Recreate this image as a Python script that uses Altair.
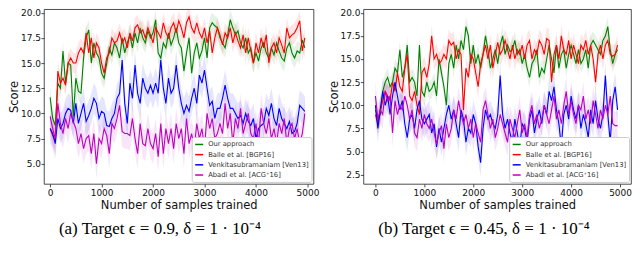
import altair as alt
import pandas as pd

# ---------------- data ----------------
SAMPLES = list(range(0, 5000, 50))  # 100 evaluation points

SERIES = ["Our approach", "Balle et al. [BGP16]", "Venkitasubramaniam [Ven13]", "Abadi et al. [ACG⁺16]"]
COLORS = ["#008000", "#ff0000", "#0000ff", "#bf00bf"]

# panel (a): eps = 0.9
A_ours = [11.6, 9.5, 8.8, 13.0, 12.5, 16.2, 13.0, 15.0, 14.8, 9.7,
          13.5, 12.2, 12.0, 15.5, 17.5, 18.3, 15.0, 17.0, 16.0, 15.5,
          14.0, 13.5, 15.0, 16.5, 15.8, 17.0, 16.5, 15.5, 17.5, 16.0,
          17.0, 17.8, 16.5, 18.0, 17.0, 18.5, 17.5, 17.0, 18.2, 17.5,
          18.0, 19.3, 16.0, 15.5, 17.0, 16.5, 18.0, 16.8, 17.5, 18.5,
          17.0, 16.5, 14.2, 16.0, 17.5, 14.0, 16.0, 17.0, 15.5, 16.2,
          17.5, 15.5, 18.5, 19.0, 18.7, 18.5, 17.5, 17.0, 16.5, 17.8,
          19.3, 18.5, 17.8, 18.2, 17.0, 16.5, 17.5, 16.0, 16.5, 15.0,
          16.0, 15.2, 16.5, 17.0, 16.0, 15.5, 16.5, 15.8, 17.0, 16.2,
          15.5, 15.2, 16.5, 17.0, 16.0, 15.5, 16.2, 16.0, 17.3, 16.5]
A_balle = [8.5, 7.8, 7.2, 14.2, 13.0, 13.5, 12.8, 15.0, 15.5, 15.0,
           15.0, 16.0, 16.5, 16.0, 18.0, 16.0, 17.5, 15.5, 17.0, 16.5,
           15.0, 14.0, 15.5, 16.0, 17.5, 17.0, 17.2, 18.0, 17.0, 17.5,
           16.5, 18.0, 17.2, 18.5, 18.8, 18.0, 18.3, 17.5, 18.5, 17.8,
           17.0, 18.5, 18.0, 17.5, 19.0, 18.0, 17.5, 18.5, 19.0, 18.0,
           19.2, 18.5, 17.5, 19.0, 19.6, 18.5, 18.0, 19.0, 18.0, 17.5,
           18.5, 17.0, 18.2, 16.0, 17.5, 18.5, 17.8, 16.8, 18.0, 17.5,
           18.5, 17.0, 18.0, 17.2, 16.5, 17.8, 16.0, 17.5, 16.2, 15.0,
           17.0, 16.0, 17.5, 16.5, 17.8, 15.0, 16.5, 17.0, 16.0, 17.5,
           16.8, 16.0, 18.5, 17.5, 17.8, 18.0, 18.5, 19.2, 16.2, 17.5]
A_venk = [8.5, 8.0, 7.0, 9.5, 8.5, 9.0, 10.0, 10.5, 10.3, 9.0,
          11.0, 9.0, 10.0, 11.0, 9.2, 9.8, 10.5, 11.5, 11.0, 9.5,
          10.2, 10.0, 8.8, 8.7, 9.5, 10.0, 11.5, 12.0, 15.3, 11.0,
          9.0, 13.0, 11.5, 14.8, 12.0, 11.0, 13.5, 12.5, 12.0, 12.8,
          12.0, 13.0, 12.0, 15.3, 12.5, 11.0, 13.5, 12.0, 12.5, 14.8,
          12.5, 11.0, 10.0, 10.8, 10.2, 11.5, 12.5, 11.0, 13.8, 13.0,
          14.3, 12.5, 10.8, 11.2, 9.5, 10.5, 10.5, 11.5, 12.8, 11.5,
          10.5, 10.5, 10.0, 9.5, 9.8, 9.0, 10.0, 9.2, 8.8, 9.5,
          7.5, 8.5, 8.8, 9.0, 10.5, 9.8, 11.0, 9.5, 8.8, 10.5,
          9.5, 9.0, 8.5, 9.2, 8.0, 8.2, 9.0, 10.8, 10.5, 10.2]
A_abadi = [9.7, 8.5, 7.5, 11.0, 9.0, 8.0, 9.5, 8.5, 10.0, 9.2,
           8.5, 7.0, 8.0, 6.5, 7.5, 7.8, 6.0, 8.0, 5.0, 7.5,
           7.0, 8.5, 7.8, 6.0, 9.0, 8.5, 9.5, 10.8, 8.2, 8.0,
           8.0, 7.8, 9.5, 7.5, 6.0, 9.0, 7.0, 6.8, 8.5, 7.0,
           6.5, 8.0, 5.7, 9.0, 6.0, 8.5, 7.0, 8.5, 6.5, 9.0,
           7.5, 8.5, 6.0, 9.5, 7.0, 8.0, 6.5, 9.0, 7.5, 8.5,
           6.5, 10.0, 8.5, 9.5, 7.5, 8.0, 9.0, 8.0, 11.0, 8.5,
           10.0, 7.0, 9.5, 8.5, 10.5, 8.0, 9.0, 10.0, 8.0, 7.5,
           9.0, 7.0, 10.5, 9.0, 8.0, 9.5, 7.5, 8.5, 7.0, 9.0,
           8.0, 9.5, 7.0, 8.5, 9.0, 7.5, 8.5, 7.0, 8.0, 10.0]
A_spread = [1.0, 1.0, 1.5, 1.5]

# panel (b): eps = 0.45
B_ours = [9.5, 8.5, 9.0, 11.5, 12.5, 13.0, 12.0, 12.5, 14.0, 13.5,
          16.0, 13.0, 14.0, 16.5, 12.5, 13.0, 12.5, 11.0, 16.5, 11.5,
          11.0, 12.5, 11.5, 11.8, 12.5, 11.0, 15.0, 13.5, 12.0, 10.0,
          14.5, 15.5, 14.0, 16.5, 15.0, 17.0, 16.0, 18.5, 17.5, 14.5,
          16.5, 14.5, 15.5, 14.0, 15.5, 17.5, 16.0, 14.0, 15.0, 16.0,
          14.5, 16.5, 17.5, 15.5, 16.5, 15.8, 16.0, 17.0, 15.5, 16.0,
          14.5, 15.5, 14.0, 13.0, 14.5, 15.0, 16.0, 13.0, 14.0, 13.5,
          15.0, 16.5, 15.0, 13.5, 16.5, 14.0, 15.5, 16.0, 14.0, 15.5,
          16.5, 15.5, 14.5, 16.0, 14.5, 15.0, 16.0, 14.0, 16.5, 17.0,
          16.5, 16.0, 15.5, 17.0, 17.5, 18.5, 16.0, 14.5, 15.5, 16.0]
B_balle = [9.0, 8.0, 9.5, 10.5, 11.5, 11.0, 10.5, 12.5, 11.5, 13.5,
           12.0, 11.5, 14.0, 15.5, 11.0, 10.5, 11.5, 10.0, 9.0, 13.5,
           14.0, 13.0, 14.5, 17.5, 15.0, 15.5, 14.5, 14.8, 15.5, 15.0,
           17.0, 16.5, 16.8, 15.0, 16.0, 15.5, 9.5, 14.0, 13.0, 15.5,
           15.0, 13.5, 12.0, 14.5, 15.5, 16.5, 15.0, 16.5, 14.0, 15.5,
           16.8, 15.5, 16.0, 17.0, 16.0, 15.0, 16.5, 15.0, 16.0, 15.5,
           16.5, 15.0, 16.5, 17.0, 15.0, 16.0, 15.5, 17.0, 16.5, 15.5,
           17.2, 17.0, 12.5, 15.5, 16.5, 15.0, 17.5, 16.0, 15.5, 17.0,
           15.0, 16.5, 15.5, 14.5, 16.5, 16.0, 17.0, 15.5, 16.5, 15.0,
           12.5, 15.5, 16.5, 15.0, 16.5, 17.0, 15.5, 15.3, 15.5, 16.5]
B_venk = [10.0, 7.5, 9.5, 11.5, 10.0, 11.0, 9.0, 11.0, 12.5, 11.0,
          9.5, 10.5, 8.0, 6.5, 8.5, 9.0, 7.5, 9.5, 10.5, 8.5,
          8.0, 8.5, 9.0, 7.0, 8.0, 5.5, 7.5, 6.0, 7.5, 9.0,
          10.0, 8.5, 9.5, 8.0, 6.5, 9.5, 8.5, 6.0, 7.5, 7.0,
          9.0, 8.0, 5.5, 3.8, 7.5, 9.5, 8.5, 9.0, 8.0, 7.5,
          9.0, 13.2, 9.0, 7.5, 8.5, 7.0, 6.0, 8.5, 7.0, 5.5,
          8.0, 7.5, 6.0, 8.5, 9.5, 7.0, 8.5, 9.5, 8.0, 10.0,
          9.0, 11.5, 10.5, 12.0, 9.5, 8.0, 5.5, 9.0, 10.0, 8.5,
          11.0, 9.5, 8.5, 10.0, 7.5, 9.0, 8.0, 6.5, 9.5, 8.0,
          10.5, 8.5, 7.5, 9.0, 13.2, 9.0, 6.0, 10.5, 12.0, 9.5]
B_abadi = [11.0, 8.5, 9.5, 9.0, 11.5, 10.5, 11.0, 7.0, 10.5, 9.0,
           10.0, 9.5, 11.0, 10.0, 8.5, 9.5, 7.0, 6.5, 8.5, 7.5,
           9.0, 8.0, 7.5, 8.5, 7.0, 5.8, 7.0, 7.8, 5.3, 8.0,
           6.5, 7.5, 9.5, 8.5, 10.5, 9.0, 8.0, 9.0, 7.5, 8.5,
           6.5, 8.0, 7.0, 6.0, 9.5, 10.5, 9.0, 7.5, 8.5, 6.5,
           7.5, 9.0, 8.0, 7.0, 6.0, 8.5, 7.5, 6.5, 8.0, 9.5,
           7.0, 8.0, 6.5, 9.0, 10.0, 8.0, 9.0, 7.5, 8.5, 10.0,
           9.0, 8.0, 9.5, 11.0, 8.5, 9.5, 8.0, 10.0, 11.5, 9.0,
           10.5, 9.0, 8.0, 10.0, 9.5, 11.0, 8.5, 9.5, 8.0, 10.5,
           9.0, 7.5, 9.5, 8.5, 10.0, 9.0, 11.0, 8.0, 7.8, 7.8]
B_spread = [1.0, 1.2, 1.5, 1.5]

X_TICKS = [0, 1000, 2000, 3000, 4000, 5000]
A_YTICKS = [5.0, 7.5, 10.0, 12.5, 15.0, 17.5, 20.0]
B_YTICKS = [2.5, 5.0, 7.5, 10.0, 12.5, 15.0, 17.5, 20.0]

CAPTION_A = "(a) Target ϵ = 0.9, δ = 1 · 10⁻⁴"
CAPTION_B = "(b) Target ϵ = 0.45, δ = 1 · 10⁻⁴"


def long_table(series_values, spreads):
    rows = []
    for name, vals, sp in zip(SERIES, series_values, spreads):
        for x, v in zip(SAMPLES, vals):
            rows.append({"samples": x, "score": v, "lo": v - sp, "hi": v + sp, "series": name})
    return pd.DataFrame(rows)


def panel(df, xdom, ydom, yticks, width, caption, cap_dx):
    x = alt.X("samples:Q", scale=alt.Scale(domain=xdom, nice=False, zero=False),
              axis=alt.Axis(values=X_TICKS, format="d", title="Number of samples trained"))
    y_axis = alt.Axis(values=yticks, format=".1f", title="Score")
    yscale = alt.Scale(domain=ydom, nice=False, zero=False)
    band = alt.Chart(df).mark_area(opacity=0.1, clip=True).encode(
        x=x,
        y=alt.Y("lo:Q", scale=yscale, axis=y_axis),
        y2="hi:Q",
        fill=alt.Fill("series:N", scale=alt.Scale(domain=SERIES, range=COLORS), legend=None),
    )
    line = alt.Chart(df).mark_line(strokeWidth=1.1, clip=True).encode(
        x=x,
        y=alt.Y("score:Q", scale=yscale, axis=y_axis),
        color=alt.Color("series:N", scale=alt.Scale(domain=SERIES, range=COLORS),
                        legend=alt.Legend(orient="bottom-right", title=None, offset=2,
                                          symbolType="stroke", symbolSize=64,
                                          symbolStrokeWidth=1.5, symbolOpacity=1,
                                          labelFontSize=6.8, labelLimit=200,
                                          labelOffset=4, rowPadding=1.2, padding=2.5,
                                          strokeColor="#cccccc", fillColor="#ffffff",
                                          cornerRadius=2, labelColor="#333")),
    )
    return alt.layer(band, line).properties(
        width=width, height=175,
        title=alt.TitleParams(caption, orient="bottom", anchor="middle", frame="bounds",
                              font="Liberation Serif", fontSize=17, fontWeight="normal",
                              color="#000", offset=10, dx=cap_dx),
    )


left = panel(long_table([A_ours, A_balle, A_venk, A_abadi], A_spread),
             [-120, 5118], [3.0, 20.35], A_YTICKS, 270, CAPTION_A, -4)
right = panel(long_table([B_ours, B_balle, B_venk, B_abadi], B_spread),
              [-245, 5224], [1.5, 20.38], B_YTICKS, 268, CAPTION_B, 4)

chart = alt.hconcat(left, right, spacing=8).resolve_scale(
    x="independent", y="independent", color="independent"
).properties(
    padding={"left": 0, "top": 0, "right": 0, "bottom": 0}
).configure_view(
    stroke="#222", strokeWidth=0.8
).configure_axis(
    grid=False, domain=False, tickColor="#222", tickSize=3, tickWidth=0.8,
    labelFont="DejaVu Sans", labelFontSize=9, labelColor="#111",
    titleFont="DejaVu Sans", titleFontSize=11.5, titleFontWeight="normal", titleColor="#111",
).configure_axisY(
    labelPadding=0.5, titlePadding=0.5
).configure_axisX(
    labelPadding=1.5, titlePadding=2
).configure_legend(
    labelFont="DejaVu Sans"
)

chart.save("out.html", embed_options={"renderer": "svg", "actions": False})
